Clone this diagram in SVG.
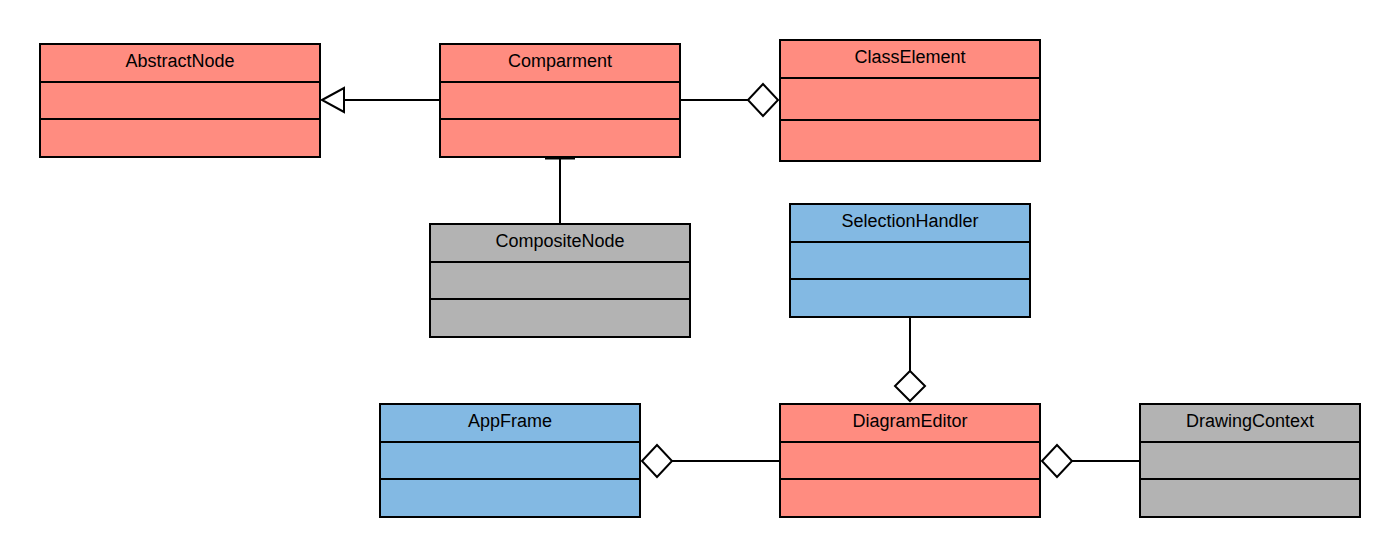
<svg xmlns="http://www.w3.org/2000/svg" width="1400" height="557" viewBox="0 0 1400 557">
<style>
.box{stroke:#000;stroke-width:2}
.red{fill:#FF8C80}
.blue{fill:#83B9E3}
.gray{fill:#B3B3B3}
.div{stroke:#000;stroke-width:2}
.t{font-family:"Liberation Sans",Arial,sans-serif;font-size:18px;fill:#000;text-anchor:middle}
.ln{stroke:#000;stroke-width:2;fill:none}
.hd{stroke:#000;stroke-width:2;fill:#fff}
</style>
<rect width="1400" height="557" fill="#fff"/>
<g id="connectors">
<line class="ln" x1="344" y1="100" x2="440" y2="100"/>
<polygon class="hd" points="322,100 344,88 344,112"/>
<line class="ln" x1="680" y1="100" x2="748" y2="100"/>
<polygon class="hd" points="748,100 763,84 778,100 763,116"/>
<line class="ln" x1="560" y1="158" x2="560" y2="224"/>
<line x1="545" y1="158" x2="575" y2="158" stroke="#000" stroke-width="3"/>
<line class="ln" x1="910" y1="317" x2="910" y2="371"/>
<polygon class="hd" points="910,371 925,386 910,401 895,386"/>
<line class="ln" x1="672" y1="461" x2="780" y2="461"/>
<polygon class="hd" points="642,461 657,445 672,461 657,477"/>
<line class="ln" x1="1072" y1="461" x2="1140" y2="461"/>
<polygon class="hd" points="1042,461 1057,445 1072,461 1057,477"/>
</g>
<g id="AbstractNode">
<rect class="box red" x="40" y="44" width="280" height="113"/>
<line class="div" x1="40" y1="82" x2="320" y2="82"/>
<line class="div" x1="40" y1="119" x2="320" y2="119"/>
<text class="t" x="180" y="67">AbstractNode</text>
</g>
<g id="Comparment">
<rect class="box red" x="440" y="44" width="240" height="113"/>
<line class="div" x1="440" y1="82" x2="680" y2="82"/>
<line class="div" x1="440" y1="119" x2="680" y2="119"/>
<text class="t" x="560" y="67">Comparment</text>
</g>
<g id="ClassElement">
<rect class="box red" x="780" y="40" width="260" height="121"/>
<line class="div" x1="780" y1="78" x2="1040" y2="78"/>
<line class="div" x1="780" y1="120" x2="1040" y2="120"/>
<text class="t" x="910" y="63">ClassElement</text>
</g>
<g id="CompositeNode">
<rect class="box gray" x="430" y="224" width="260" height="113"/>
<line class="div" x1="430" y1="262" x2="690" y2="262"/>
<line class="div" x1="430" y1="299" x2="690" y2="299"/>
<text class="t" x="560" y="247">CompositeNode</text>
</g>
<g id="SelectionHandler">
<rect class="box blue" x="790" y="204" width="240" height="113"/>
<line class="div" x1="790" y1="242" x2="1030" y2="242"/>
<line class="div" x1="790" y1="279" x2="1030" y2="279"/>
<text class="t" x="910" y="227">SelectionHandler</text>
</g>
<g id="AppFrame">
<rect class="box blue" x="380" y="404" width="260" height="113"/>
<line class="div" x1="380" y1="442" x2="640" y2="442"/>
<line class="div" x1="380" y1="479" x2="640" y2="479"/>
<text class="t" x="510" y="427">AppFrame</text>
</g>
<g id="DiagramEditor">
<rect class="box red" x="780" y="404" width="260" height="113"/>
<line class="div" x1="780" y1="442" x2="1040" y2="442"/>
<line class="div" x1="780" y1="479" x2="1040" y2="479"/>
<text class="t" x="910" y="427">DiagramEditor</text>
</g>
<g id="DrawingContext">
<rect class="box gray" x="1140" y="404" width="220" height="113"/>
<line class="div" x1="1140" y1="442" x2="1360" y2="442"/>
<line class="div" x1="1140" y1="479" x2="1360" y2="479"/>
<text class="t" x="1250" y="427">DrawingContext</text>
</g>
</svg>
